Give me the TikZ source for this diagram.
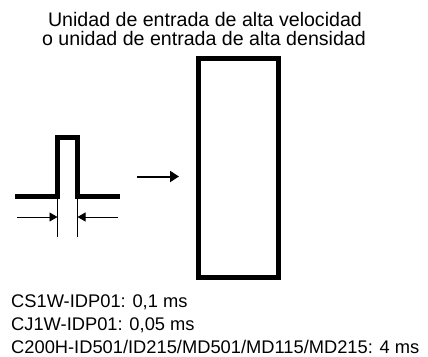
\documentclass[tikz,border=0pt]{standalone}
\usepackage{fontspec}
\setmainfont{Liberation Sans}
\usetikzlibrary{arrows.meta}
\begin{document}
\begin{tikzpicture}[x=1pt,y=-1pt,
  thickline/.style={line width=4.5pt},
  thinline/.style={line width=0.8pt},
  dimarrow/.style={line width=0.8pt,-{Triangle[length=8pt,width=9pt]}},
  bigarrow/.style={line width=2pt,-{Triangle[length=9pt,width=11pt]}},
  titletext/.style={font=\fontsize{19.6}{19}\selectfont,align=center,inner sep=0pt},
  listtext/.style={font=\fontsize{18.3}{23}\selectfont,align=left,inner sep=0pt,anchor=north west}]
\useasboundingbox (0,0) rectangle (428,356);
% title
\node[titletext,anchor=base] (t1) at (205,26.5) {Unidad de entrada de alta velocidad};
\node[titletext,anchor=base] (t2) at (204,45.5) {o unidad de entrada de alta densidad};
% unit box
\draw[line width=5pt] (198.5,58.5) rectangle (278.5,277.5);
\coordinate (box) at (198.5,176.5);
% pulse
\draw[thickline,line join=miter] (15,196.5) -- (57.5,196.5) -- (57.5,137.5) -- (77.5,137.5) -- (77.5,196.5) -- (120,196.5);
% pulse width markers
\coordinate (pl) at (57.5,196.5);
\coordinate (pr) at (77.5,196.5);
\coordinate (plb) at (57.5,237);
\coordinate (prb) at (77.5,237);
\draw[thinline] (pl) -- (plb);
\draw[thinline] (pr) -- (prb);
\coordinate (la) at (17,217);
\coordinate (ra) at (118,217);
\draw[dimarrow] (la) -- (57.5,217);
\draw[dimarrow] (ra) -- (77.5,217);
% arrow to unit
\coordinate (a0) at (137,176.5);
\coordinate (a1) at (179,176.5);
\draw[bigarrow] (a0) -- (a1);
% list
\node[anchor=base west,inner sep=0pt,font=\fontsize{18.3}{23}\selectfont] (l1) at (11,307) {CS1W-IDP01: 0,1 ms};
\node[anchor=base west,inner sep=0pt,font=\fontsize{18.3}{23}\selectfont] (l2) at (11,330) {CJ1W-IDP01: 0,05 ms};
\node[anchor=base west,inner sep=0pt,font=\fontsize{18.3}{23}\selectfont] (l3) at (11,353) {C200H-ID501/ID215/MD501/MD115/MD215: 4 ms};
\end{tikzpicture}
\end{document}
